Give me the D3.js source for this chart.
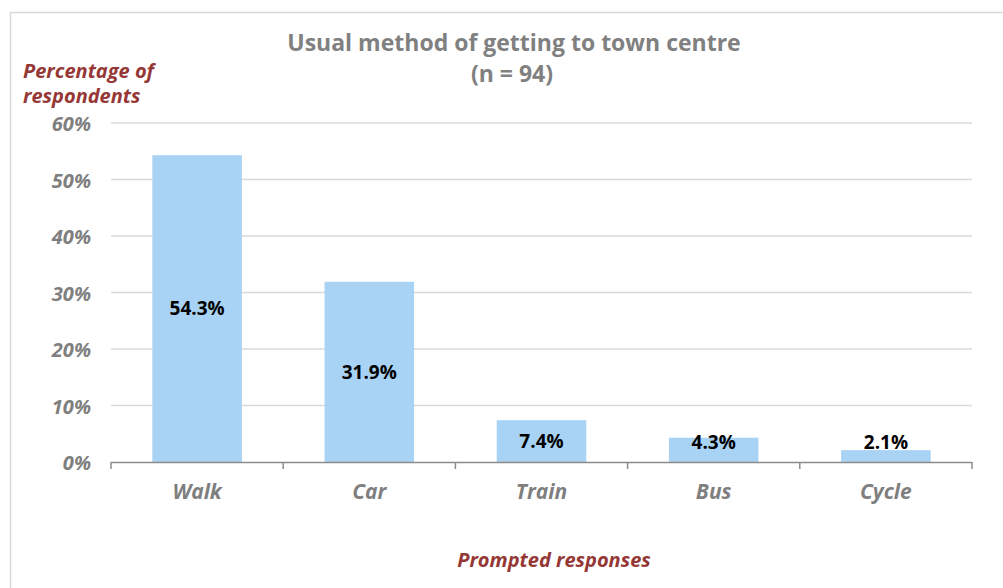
<!DOCTYPE html>
<html>
<head>
<meta charset="utf-8">
<script src="https://cdn.jsdelivr.net/npm/d3@7"></script>
<style>
  html, body { margin: 0; padding: 0; background: #fff; }
  svg { display: block; font-family: "Open Sans", "Noto Sans", sans-serif; }
</style>
</head>
<body>
<svg id="chart" width="1003" height="588"></svg>
<script>
// Survey results: how respondents usually travel to the town centre
const categories = ["Walk", "Car", "Train", "Bus", "Cycle"];
const percentages = [54.3, 31.9, 7.4, 4.3, 2.1];
const yTicks = [0, 10, 20, 30, 40, 50, 60];

const svg = d3.select("#chart");
const W = 1003, H = 588;
const plot = { left: 111, right: 972, top: 123, bottom: 462 };

// chart frame
svg.append("rect")
  .attr("x", 10.5).attr("y", 12.5)
  .attr("width", W + 10).attr("height", H + 10)
  .attr("fill", "#fff").attr("stroke", "#d9d9d9").attr("stroke-width", 1.5);

const x = d3.scaleBand()
  .domain(categories)
  .range([plot.left, plot.right])
  .paddingInner(0.48).paddingOuter(0.24);

const y = d3.scaleLinear().domain([0, 60]).range([plot.bottom, plot.top]);

// horizontal gridlines
svg.append("g")
  .selectAll("line")
  .data(yTicks.filter(t => t > 0))
  .join("line")
  .attr("x1", plot.left).attr("x2", plot.right)
  .attr("y1", d => y(d)).attr("y2", d => y(d))
  .attr("stroke", "#d9d9d9").attr("stroke-width", 1.5);

// y tick labels
svg.append("g")
  .selectAll("text")
  .data(yTicks)
  .join("text")
  .attr("x", 91).attr("y", d => y(d) + 1)
  .attr("dy", "0.35em")
  .attr("text-anchor", "end")
  .attr("font-size", 20).attr("font-weight", "bold").attr("font-style", "italic")
  .attr("fill", "#7f7f7f")
  .text(d => d + "%");

// bars
svg.append("g")
  .selectAll("rect")
  .data(categories)
  .join("rect")
  .attr("x", d => x(d))
  .attr("width", x.bandwidth())
  .attr("y", (d, i) => y(percentages[i]))
  .attr("height", (d, i) => y(0) - y(percentages[i]))
  .attr("fill", "#a9d3f5");

// x axis with ticks at category boundaries
const xAxis = svg.append("g");
xAxis.append("line")
  .attr("x1", plot.left).attr("x2", plot.right)
  .attr("y1", plot.bottom + 0.5).attr("y2", plot.bottom + 0.5)
  .attr("stroke", "#8c8c8c").attr("stroke-width", 1.5);
const bounds = d3.range(categories.length + 1).map(i => plot.left + i * (plot.right - plot.left) / categories.length);
xAxis.selectAll("line.tick")
  .data(bounds)
  .join("line")
  .attr("class", "tick")
  .attr("x1", d => d).attr("x2", d => d)
  .attr("y1", plot.bottom).attr("y2", plot.bottom + 7)
  .attr("stroke", "#8c8c8c").attr("stroke-width", 1.5);

// category labels
svg.append("g")
  .selectAll("text")
  .data(categories)
  .join("text")
  .attr("x", d => x(d) + x.bandwidth() / 2)
  .attr("y", 492).attr("dy", "0.35em")
  .attr("text-anchor", "middle")
  .attr("font-size", 21).attr("font-weight", "bold").attr("font-style", "italic")
  .attr("fill", "#7f7f7f")
  .text(d => d);

// value labels, centred in the bar but kept clear of the axis
svg.append("g")
  .selectAll("text")
  .data(categories)
  .join("text")
  .attr("x", d => x(d) + x.bandwidth() / 2)
  .attr("y", (d, i) => Math.min(y(percentages[i] / 2), plot.bottom - 20))
  .attr("dy", "0.35em")
  .attr("text-anchor", "middle")
  .attr("font-size", 19).attr("font-weight", "bold")
  .attr("fill", "#000")
  .text((d, i) => percentages[i].toFixed(1) + "%");

// title
const title = svg.append("text")
  .attr("text-anchor", "middle")
  .attr("font-size", 23).attr("font-weight", "bold")
  .attr("fill", "#808080");
title.append("tspan").attr("x", 514).attr("y", 51).text("Usual method of getting to town centre");
title.append("tspan").attr("x", 512).attr("y", 82).text("(n = 94)");

// axis titles
const yTitle = svg.append("text")
  .attr("font-size", 20).attr("font-weight", "bold").attr("font-style", "italic")
  .attr("fill", "#953735");
yTitle.append("tspan").attr("x", 23).attr("y", 78).text("Percentage of");
yTitle.append("tspan").attr("x", 23).attr("y", 103).text("respondents");

svg.append("text")
  .attr("x", 554).attr("y", 567)
  .attr("text-anchor", "middle")
  .attr("font-size", 20).attr("font-weight", "bold").attr("font-style", "italic")
  .attr("fill", "#953735")
  .text("Prompted responses");
</script>
</body>
</html>
